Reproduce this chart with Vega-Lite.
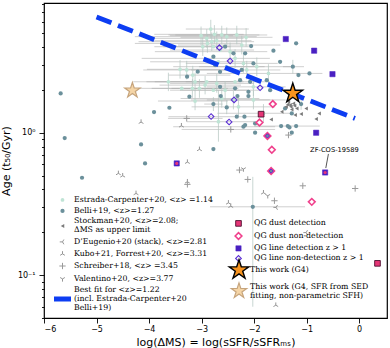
{
 "$schema": "https://vega.github.io/schema/vega-lite/v6.json",
 "width": 343, "height": 315,
 "autosize": {"type": "none"},
 "padding": {"left": 44, "top": 3, "right": 3, "bottom": 30},
 "config": {
  "view": {"stroke": "#000000", "strokeWidth": 1.2},
  "axis": {"grid": false, "domain": false, "tickColor": "#000000", "tickWidth": 0.9, "labelColor": "#000000", "labelFont": "DejaVu Sans", "labelFontSize": 8, "titleFont": "DejaVu Sans", "titleFontSize": 11, "titleFontWeight": "normal", "titleColor": "#000000"},
  "legend": {"labelFont": "DejaVu Serif", "labelFontSize": 7.8, "labelColor": "#000000", "padding": 0, "labelLimit": 400, "symbolOpacity": 1, "orient": "none", "title": null}
 },
 "datasets": {
  "L": [
   {"g":"EC","x":-2.825,"y":5.35},{"g":"EC","x":-3.010,"y":4.80},{"g":"EC","x":-2.756,"y":4.91},{"g":"EC","x":-2.616,"y":4.86},{"g":"EC","x":-2.521,"y":4.73},{"g":"EC","x":-2.330,"y":4.86},{"g":"EC","x":-2.152,"y":4.68},{"g":"EC","x":-2.889,"y":4.24},{"g":"EC","x":-2.806,"y":4.36},{"g":"EC","x":-2.978,"y":4.02},{"g":"EC","x":-2.711,"y":4.43},{"g":"EC","x":-2.235,"y":4.13},{"g":"EC","x":-2.457,"y":3.71},{"g":"EC","x":-2.203,"y":3.07},{"g":"EC","x":-1.949,"y":2.91},{"g":"EC","x":-1.727,"y":2.61},{"g":"EC","x":-3.410,"y":2.79},{"g":"EC","x":-3.283,"y":2.76},{"g":"EC","x":-3.168,"y":2.54},{"g":"EC","x":-3.632,"y":2.28},{"g":"EC","x":-3.124,"y":2.28},{"g":"EC","x":-2.933,"y":2.16},{"g":"EC","x":-3.041,"y":2.05},{"g":"EC","x":-3.175,"y":2.05},{"g":"EC","x":-2.711,"y":2.22},{"g":"EC","x":-2.552,"y":1.99},{"g":"EC","x":-3.124,"y":1.67},{"g":"EC","x":-2.679,"y":1.195},{"g":"EC","x":-2.298,"y":1.52},{"g":"EC","x":-2.616,"y":1.74},{"g":"EC","x":-2.394,"y":1.70},{"g":"EC","x":-2.013,"y":1.70},{"g":"EC","x":-1.822,"y":1.37},{"g":"EC","x":-2.902,"y":4.60},{"g":"EC","x":-2.775,"y":4.02},{"g":"EC","x":-2.648,"y":3.81},{"g":"EC","x":-2.362,"y":3.33},{"g":"EC","x":-2.679,"y":3.15},{"g":"EC","x":-2.521,"y":2.91},{"g":"EC","x":-2.140,"y":2.76},{"g":"EC","x":-2.902,"y":2.28},{"g":"EC","x":-3.378,"y":2.05},{"g":"EC","x":-2.775,"y":1.99},{"g":"EC","x":-2.362,"y":2.28},{"g":"EC","x":-2.013,"y":2.10},
   {"g":"BE","x":-5.683,"y":1.889},{"g":"BE","x":-5.606,"y":0.917},{"g":"BE","x":-5.276,"y":0.483},{"g":"BE","x":-4.152,"y":0.828},{"g":"BE","x":-4.076,"y":0.609},{"g":"BE","x":-3.905,"y":1.397},{"g":"BE","x":-3.613,"y":1.498},{"g":"BE","x":-3.232,"y":1.790},{"g":"BE","x":-2.775,"y":0.768},{"g":"BE","x":-1.200,"y":4.243},{"g":"BE","x":-2.025,"y":0.302},{"g":"BE","x":-3.276,"y":2.474},{"g":"BE","x":-3.073,"y":2.683},{"g":"BE","x":-2.775,"y":1.590},{"g":"BE","x":-2.775,"y":3.42},{"g":"BE","x":-2.057,"y":4.063},{"g":"BE","x":-1.632,"y":3.77},{"g":"BE","x":-2.171,"y":3.61},{"g":"BE","x":-2.394,"y":3.61},{"g":"BE","x":-2.552,"y":4.02},{"g":"BE","x":-1.263,"y":2.91},{"g":"BE","x":-1.156,"y":2.54},{"g":"BE","x":-0.946,"y":2.61},{"g":"BE","x":-2.013,"y":3.07},{"g":"BE","x":-2.235,"y":2.76},{"g":"BE","x":-2.076,"y":2.28},{"g":"BE","x":-2.267,"y":2.34},{"g":"BE","x":-2.108,"y":1.94},{"g":"BE","x":-2.362,"y":2.05},{"g":"BE","x":-1.695,"y":1.99},{"g":"BE","x":-2.648,"y":2.68},{"g":"BE","x":-2.743,"y":2.99},{"g":"BE","x":-2.635,"y":1.81},{"g":"BE","x":-2.521,"y":1.507},{"g":"BE","x":-2.317,"y":1.81},{"g":"BE","x":-2.108,"y":1.81},{"g":"BE","x":-2.330,"y":1.296},{"g":"BE","x":-2.184,"y":1.296},{"g":"BE","x":-2.171,"y":1.132},{"g":"BE","x":-1.981,"y":1.163},{"g":"BE","x":-1.981,"y":1.0},{"g":"BE","x":-2.203,"y":1.102},{"g":"BE","x":-1.486,"y":1.114},{"g":"BE","x":-1.359,"y":1.114},{"g":"BE","x":-1.200,"y":1.114},{"g":"BE","x":-1.283,"y":1.0},{"g":"BE","x":-1.105,"y":1.59},{"g":"BE","x":-1.283,"y":1.367},{"g":"BE","x":-1.505,"y":3.15},{"g":"BE","x":-1.410,"y":1.482},{"g":"BE","x":-1.327,"y":1.09},{"g":"BE","x":-1.759,"y":2.34},{"g":"BE","x":-2.648,"y":2.10},{"g":"BE","x":-1.746,"y":0.95},{"g":"BE","x":-1.676,"y":0.538},
   {"g":"ST","x":-1.676,"y":1.241},{"g":"ST","x":-1.473,"y":1.405},{"g":"ST","x":-1.283,"y":1.458},{"g":"ST","x":-1.219,"y":1.331},{"g":"ST","x":-1.105,"y":1.352},{"g":"ST","x":-1.010,"y":1.482},{"g":"ST","x":-0.762,"y":1.367},{"g":"ST","x":-0.819,"y":1.247},{"g":"ST","x":-1.346,"y":1.651},{"g":"ST","x":-1.314,"y":1.565},{"g":"ST","x":-1.251,"y":1.607},{"g":"ST","x":-1.390,"y":1.52},{"g":"ST","x":-1.187,"y":1.48},{"g":"ST","x":-1.300,"y":1.52},{"g":"ST","x":-1.360,"y":1.58},{"g":"ST","x":-1.230,"y":1.55},
   {"g":"DE","x":-1.581,"y":0.299},{"g":"DE","x":-1.010,"y":0.199},
   {"g":"KU","x":-4.152,"y":1.188},{"g":"KU","x":-3.384,"y":1.120},{"g":"KU","x":-3.041,"y":0.764},{"g":"KU","x":-3.270,"y":0.622},{"g":"KU","x":-4.584,"y":0.518},{"g":"KU","x":-4.502,"y":0.499},{"g":"KU","x":-4.248,"y":0.375},{"g":"KU","x":-3.270,"y":0.453},{"g":"KU","x":-2.489,"y":0.322},{"g":"KU","x":-2.444,"y":0.305},{"g":"KU","x":-1.587,"y":0.0615},{"g":"KU","x":-1.822,"y":0.379},
   {"g":"SC","x":-3.283,"y":1.261},{"g":"SC","x":-2.444,"y":1.055},{"g":"SC","x":-1.346,"y":0.963},{"g":"SC","x":-2.279,"y":0.547},{"g":"SC","x":-2.121,"y":0.470},{"g":"SC","x":-3.270,"y":0.434},{"g":"SC","x":-1.613,"y":0.333},{"g":"SC","x":-1.073,"y":0.424},{"g":"SC","x":-0.076,"y":0.406},
   {"g":"VA","x":-2.203,"y":0.556},{"g":"VA","x":-1.740,"y":0.361}
  ],
  "Q": [
   {"g":"QDN","x":-1.644,"y":1.59},{"g":"QDN","x":-1.898,"y":1.18},{"g":"QDN","x":-1.746,"y":0.95},{"g":"QDN","x":-1.663,"y":0.76},{"g":"QDN","x":-1.676,"y":0.538},{"g":"QDN","x":-0.902,"y":0.327},
   {"g":"QLN","x":-2.660,"y":3.96},{"g":"QLN","x":-2.457,"y":3.19},{"g":"QLN","x":-1.886,"y":2.07},{"g":"QLN","x":-2.381,"y":1.70},{"g":"QLN","x":-2.476,"y":1.19},{"g":"QLN","x":-2.819,"y":1.30},
   {"g":"xPD","x":-1.746,"y":0.95},{"g":"xPD","x":-1.676,"y":0.538},
   {"g":"QLD","x":-1.397,"y":4.55},{"g":"QLD","x":-0.857,"y":3.77},{"g":"QLD","x":-0.508,"y":2.58},{"g":"QLD","x":-0.819,"y":1.0},{"g":"QLD","x":-3.473,"y":0.609},{"g":"QLD","x":-0.648,"y":0.526},
   {"g":"QDD","x":-1.867,"y":1.35},{"g":"QDD","x":0.349,"y":0.121},
   {"g":"xPK","x":-3.473,"y":0.609},{"g":"xPK","x":-0.648,"y":0.526}
  ],
  "S": [{"g":"G4","x":-1.263,"y":1.89},{"g":"G4S","x":-4.317,"y":1.98}],
  "he": [
   {"x":-3.3,"x2":-2.1,"y":5.35},{"x":-3.6,"x2":-2.4,"y":4.80},{"x":-3.9,"x2":-2.2,"y":4.91},{"x":-3.63,"x2":-1.9,"y":4.86},{"x":-4.27,"x2":-1.95,"y":4.73},{"x":-3.5,"x2":-1.75,"y":4.86},{"x":-3.4,"x2":-1.65,"y":4.68},{"x":-4.27,"x2":-2.25,"y":4.24},{"x":-4.2,"x2":-2.0,"y":4.36},{"x":-3.73,"x2":-2.45,"y":4.02},{"x":-3.9,"x2":-2.05,"y":4.43},{"x":-3.45,"x2":-1.5,"y":4.13},{"x":-3.89,"x2":-1.75,"y":3.71},{"x":-3.3,"x2":-1.55,"y":3.07},{"x":-3.05,"x2":-1.3,"y":2.91},{"x":-2.9,"x2":-1.15,"y":2.61},{"x":-4.04,"x2":-2.65,"y":2.79},{"x":-4.11,"x2":-2.5,"y":2.76},{"x":-3.63,"x2":-2.45,"y":2.54},{"x":-4.3,"x2":-2.95,"y":2.28},{"x":-4.05,"x2":-2.35,"y":2.28},{"x":-3.8,"x2":-2.25,"y":2.16},{"x":-3.95,"x2":-2.3,"y":2.05},{"x":-3.57,"x2":-2.5,"y":2.05},{"x":-3.6,"x2":-2.0,"y":2.22},{"x":-3.41,"x2":-1.9,"y":1.99},{"x":-3.83,"x2":-2.5,"y":1.67},{"x":-3.28,"x2":-2.0,"y":1.195},{"x":-3.19,"x2":-1.6,"y":1.52},{"x":-3.4,"x2":-1.9,"y":1.74},{"x":-3.2,"x2":-1.7,"y":1.70},{"x":-2.9,"x2":-1.4,"y":1.70},{"x":-2.7,"x2":-1.3,"y":1.37},{"x":-4.0,"x2":-2.2,"y":4.60},{"x":-3.9,"x2":-2.1,"y":4.02},{"x":-3.6,"x2":-2.0,"y":3.81},{"x":-4.14,"x2":-1.7,"y":3.33},{"x":-3.98,"x2":-2.0,"y":3.15},{"x":-3.54,"x2":-1.8,"y":2.91},{"x":-3.2,"x2":-1.5,"y":2.76},{"x":-3.89,"x2":-2.2,"y":2.28},{"x":-4.2,"x2":-2.7,"y":2.05},{"x":-3.6,"x2":-2.1,"y":1.99},{"x":-3.3,"x2":-1.7,"y":2.28},{"x":-2.9,"x2":-1.4,"y":2.10},
   {"x":-3.63,"x2":-1.8,"y":1.296},{"x":-3.54,"x2":-1.6,"y":1.102},
   {"x":-2.84,"x2":-1.03,"y":0.302},{"x":-1.45,"x2":-1.05,"y":2.91},{"x":-2.95,"x2":-2.6,"y":1.59},{"x":-1.2,"x2":-0.7,"y":2.61},{"x":-2.0,"x2":-0.75,"y":1.114},
   {"x":-3.64,"x2":-2.6,"y":1.261},{"x":-3.38,"x2":-1.6,"y":1.055}
  ],
  "ve": [
   {"x":-2.825,"y":4.60,"y2":6.21},{"x":-3.010,"y":4.13,"y2":5.57},{"x":-2.756,"y":4.22,"y2":5.70},{"x":-2.616,"y":4.18,"y2":5.64},{"x":-2.521,"y":4.07,"y2":5.49},{"x":-2.330,"y":4.18,"y2":5.64},{"x":-2.152,"y":4.02,"y2":5.43},{"x":-2.889,"y":3.65,"y2":4.92},{"x":-2.806,"y":3.75,"y2":5.06},{"x":-2.978,"y":3.46,"y2":4.66},{"x":-2.711,"y":3.81,"y2":5.14},{"x":-2.235,"y":3.55,"y2":4.79},{"x":-2.457,"y":3.19,"y2":4.30},{"x":-2.203,"y":2.64,"y2":3.56},{"x":-1.949,"y":2.50,"y2":3.38},{"x":-1.727,"y":2.24,"y2":3.03},{"x":-3.410,"y":2.40,"y2":3.24},{"x":-3.283,"y":2.37,"y2":3.20},{"x":-3.168,"y":2.18,"y2":2.95},{"x":-3.632,"y":1.96,"y2":2.64},{"x":-3.124,"y":1.96,"y2":2.64},{"x":-2.933,"y":1.86,"y2":2.51},{"x":-3.041,"y":1.76,"y2":2.38},{"x":-3.175,"y":1.76,"y2":2.38},{"x":-2.711,"y":1.91,"y2":2.58},{"x":-2.552,"y":1.71,"y2":2.31},{"x":-3.124,"y":1.44,"y2":1.99},{"x":-2.679,"y":0.865,"y2":1.99},{"x":-2.298,"y":1.31,"y2":1.76},{"x":-2.616,"y":1.50,"y2":2.02},{"x":-2.394,"y":1.46,"y2":1.97},{"x":-2.013,"y":1.46,"y2":1.97},{"x":-1.822,"y":1.18,"y2":1.59},{"x":-2.902,"y":3.96,"y2":5.34},{"x":-2.362,"y":2.86,"y2":3.86},{"x":-2.140,"y":2.37,"y2":3.20},{"x":-2.013,"y":1.81,"y2":2.44},
   {"x":-2.025,"y":0.06,"y2":0.49},{"x":-1.263,"y":2.6,"y2":3.25},{"x":-2.775,"y":1.42,"y2":1.78},{"x":-2.521,"y":1.35,"y2":1.7},{"x":-1.105,"y":1.45,"y2":1.75}
  ],
  "fit": [{"x":-5.0,"y":6.5},{"x":-0.08,"y":1.26}],
  "arrow": [{"x":-0.585,"y":0.71,"x2":-0.635,"y2":0.565}],
  "lab": [{"x":-0.47,"y":0.755,"t":"ZF-COS-19589"}]
 },
 "encoding": {
  "x": {"field":"x","type":"quantitative","scale":{"domain":[-6,0.53],"nice":false,"zero":false},"axis":{"values":[-6,-5,-4,-3,-2,-1,0],"format":"d","title":"log(ΔMS) = log(sSFR/sSFRₘₛ)","tickSize":5,"labelPadding":2,"titlePadding":3}},
  "y": {"field":"y","type":"quantitative","scale":{"type":"log","domain":[0.05,8.15],"nice":false},"axis":{"values":[0.05,0.06,0.07,0.08,0.09,0.1,0.2,0.3,0.4,0.5,0.6,0.7,0.8,0.9,1,2,3,4,5,6,7,8],"labelExpr":"datum.value==1?'10⁰':(datum.value==0.1?'10⁻¹':'')","tickSize":{"condition":{"test":"datum.value==1||datum.value==0.1","value":5},"value":2.5},"labelOverlap":false,"labelPadding":4,"title":"Age (t₅₀/Gyr)","titlePadding":6}}
 },
 "layer": [
  {"data":{"name":"he"},"mark":{"type":"rule","color":"#a8a8a8","strokeWidth":0.9,"opacity":0.6},"encoding":{"x2":{"field":"x2"}}},
  {"data":{"name":"ve"},"mark":{"type":"rule","color":"#b4c6c0","strokeWidth":0.9,"opacity":0.8},"encoding":{"y2":{"field":"y2"}}},
  {"data":{"name":"L"},"mark":{"type":"point","opacity":1},
   "encoding":{
    "shape":{"field":"g","type":"nominal","scale":{"domain":["EC","BE","ST","DE","KU","SC","VA","FIT"],"range":["circle","circle","triangle-left","M0,0L-1,0M0,0L0.5,-0.866M0,0L0.5,0.866","M0,0L0,-1M0,0L-0.866,0.5M0,0L0.866,0.5","M-1,0L1,0M0,-1L0,1","M0,0L0,1M0,0L-0.866,-0.5M0,0L0.866,-0.5","stroke"]},
     "legend":{"orient":"none","legendX":7.5,"legendY":193,"values":["EC","BE","ST","DE","KU","SC","VA","FIT"],"rowPadding":2,"labelOffset":0.5,"labelExpr":"datum.label=='EC'?'Estrada-Carpenter+20, <z> =1.14':datum.label=='BE'?'Belli+19, <z>=1.27':datum.label=='ST'?['Stockman+20, <z>=2.08;','ΔMS as upper limit']:datum.label=='DE'?'D’Eugenio+20 (stack), <z>=2.81':datum.label=='KU'?'Kubo+21, Forrest+20, <z>=3.31':datum.label=='SC'?'Schreiber+18, <z> =3.45':datum.label=='VA'?'Valentino+20, <z>=3.77':['Best fit for <z>=1.22',' (incl. Estrada-Carpenter+20','Belli+19)']",
      "encoding":{"labels":{"dy":{"condition":[{"test":"datum.value=='ST'","value":-4.5},{"test":"datum.value=='FIT'","value":-9}],"value":0},"lineHeight":{"value":9}}}}},
    "fill":{"field":"g","type":"nominal","scale":{"domain":["EC","BE","ST","DE","KU","SC","VA","FIT"],"range":["#bfe4d5","#6b909b","#7a7a7a","transparent","transparent","transparent","transparent","transparent"]},
     "legend":{"orient":"none","legendX":7.5,"legendY":193,"values":["EC","BE","ST","DE","KU","SC","VA","FIT"],"rowPadding":2,"labelOffset":0.5,
      "encoding":{"labels":{"dy":{"condition":[{"test":"datum.value=='ST'","value":-4.5},{"test":"datum.value=='FIT'","value":-9}],"value":0},"lineHeight":{"value":9}}}}},
    "stroke":{"field":"g","type":"nominal","scale":{"domain":["EC","BE","ST","DE","KU","SC","VA","FIT"],"range":["#bfe4d5","#6b909b","#7a7a7a","#8a8a8a","#8a8a8a","#9a9a9a","#8a8a8a","#0d3df2"]},
     "legend":{"orient":"none","legendX":7.5,"legendY":193,"values":["EC","BE","ST","DE","KU","SC","VA","FIT"],"rowPadding":2,"labelOffset":0.5,
      "encoding":{"labels":{"dy":{"condition":[{"test":"datum.value=='ST'","value":-4.5},{"test":"datum.value=='FIT'","value":-9}],"value":0},"lineHeight":{"value":9}}}}},
    "size":{"field":"g","type":"nominal","scale":{"type":"ordinal","domain":["EC","BE","ST","DE","KU","SC","VA","FIT"],"range":[14,18,16,30,30,40,30,289]},
     "legend":{"orient":"none","legendX":7.5,"legendY":193,"values":["EC","BE","ST","DE","KU","SC","VA","FIT"],"rowPadding":2,"labelOffset":0.5,
      "encoding":{"labels":{"dy":{"condition":[{"test":"datum.value=='ST'","value":-4.5},{"test":"datum.value=='FIT'","value":-9}],"value":0},"lineHeight":{"value":9}}}}},
    "strokeWidth":{"field":"g","type":"nominal","scale":{"type":"ordinal","domain":["EC","BE","ST","DE","KU","SC","VA","FIT"],"range":[0,0,0,0.9,0.9,1,0.9,5]},
     "legend":{"orient":"none","legendX":7.5,"legendY":193,"values":["EC","BE","ST","DE","KU","SC","VA","FIT"],"rowPadding":2,"labelOffset":0.5,
      "encoding":{"labels":{"dy":{"condition":[{"test":"datum.value=='ST'","value":-4.5},{"test":"datum.value=='FIT'","value":-9}],"value":0},"lineHeight":{"value":9}}}}}
   }},
  {"data":{"name":"fit"},"mark":{"type":"line","color":"#0d3df2","strokeWidth":4.8,"strokeDash":[16,7],"strokeCap":"butt"},"encoding":{}},
  {"data":{"name":"Q"},"mark":{"type":"point","opacity":1},
   "encoding":{
    "shape":{"field":"g","type":"nominal","scale":{"domain":["QDD","QDN","QLD","QLN","xPD","xPK"],"range":["square","diamond","square","diamond","diamond","circle"]},
     "legend":{"orient":"none","legendX":190,"legendY":216.5,"values":["QDD","QDN","QLD","QLN"],"rowPadding":0,"labelOffset":11,"labelExpr":"datum.label=='QDD'?'QG dust detection':datum.label=='QDN'?'QG dust non-detection':datum.label=='QLD'?'QG line detection z > 1':'QG line non-detection z > 1'"}},
    "fill":{"field":"g","type":"nominal","scale":{"domain":["QDD","QDN","QLD","QLN","xPD","xPK"],"range":["#e63576","transparent","#4a20c2","transparent","transparent","#e8357a"]},
     "legend":{"orient":"none","legendX":190,"legendY":216.5,"values":["QDD","QDN","QLD","QLN"],"rowPadding":0,"labelOffset":11}},
    "stroke":{"field":"g","type":"nominal","scale":{"domain":["QDD","QDN","QLD","QLN","xPD","xPK"],"range":["#4d1030","#f0408c","#4a20c2","#5b2fd3","#5b2fd3","#e8357a"]},
     "legend":{"orient":"none","legendX":190,"legendY":216.5,"values":["QDD","QDN","QLD","QLN"],"rowPadding":0,"labelOffset":11}},
    "size":{"field":"g","type":"nominal","scale":{"type":"ordinal","domain":["QDD","QDN","QLD","QLN","xPD","xPK"],"range":[32,45,28,32,18,10]},
     "legend":{"orient":"none","legendX":190,"legendY":216.5,"values":["QDD","QDN","QLD","QLN"],"rowPadding":0,"labelOffset":11}},
    "strokeWidth":{"field":"g","type":"nominal","scale":{"type":"ordinal","domain":["QDD","QDN","QLD","QLN","xPD","xPK"],"range":[0.9,1.6,0.5,1.1,1,0]},
     "legend":{"orient":"none","legendX":190,"legendY":216.5,"values":["QDD","QDN","QLD","QLN"],"rowPadding":0,"labelOffset":11}}
   }},
  {"data":{"name":"S"},"mark":{"type":"point","opacity":1},
   "encoding":{
    "shape":{"field":"g","type":"nominal","scale":{"domain":["G4","G4S"],"range":["M0,-1L0.2245,-0.309L0.951,-0.309L0.363,0.118L0.588,0.809L0,0.382L-0.588,0.809L-0.363,0.118L-0.951,-0.309L-0.2245,-0.309Z","M0,-1L0.2245,-0.309L0.951,-0.309L0.363,0.118L0.588,0.809L0,0.382L-0.588,0.809L-0.363,0.118L-0.951,-0.309L-0.2245,-0.309Z"]},
     "legend":{"orient":"none","legendX":184,"legendY":256,"rowPadding":-15,"labelOffset":0,"labelExpr":"datum.label=='G4'?'This work (G4)':['This work (G4, SFR from SED','fitting, non-parametric SFH)']",
      "encoding":{"labels":{"dy":{"condition":{"test":"datum.value=='G4S'","value":-4.5},"value":0},"lineHeight":{"value":9}}}}},
    "fill":{"field":"g","type":"nominal","scale":{"domain":["G4","G4S"],"range":["#f7931e","#f5d5a6"]},
     "legend":{"orient":"none","legendX":184,"legendY":256,"rowPadding":-15,"labelOffset":0,
      "encoding":{"labels":{"dy":{"condition":{"test":"datum.value=='G4S'","value":-4.5},"value":0},"lineHeight":{"value":9}}}}},
    "stroke":{"field":"g","type":"nominal","scale":{"domain":["G4","G4S"],"range":["#000000","#c6a47c"]},
     "legend":{"orient":"none","legendX":184,"legendY":256,"rowPadding":-15,"labelOffset":0,
      "encoding":{"labels":{"dy":{"condition":{"test":"datum.value=='G4S'","value":-4.5},"value":0},"lineHeight":{"value":9}}}}},
    "size":{"field":"g","type":"nominal","scale":{"type":"ordinal","domain":["G4","G4S"],"range":[420,260]},
     "legend":{"orient":"none","legendX":184,"legendY":256,"rowPadding":-15,"labelOffset":0,
      "encoding":{"labels":{"dy":{"condition":{"test":"datum.value=='G4S'","value":-4.5},"value":0},"lineHeight":{"value":9}}}}},
    "strokeWidth":{"field":"g","type":"nominal","scale":{"type":"ordinal","domain":["G4","G4S"],"range":[1.4,1.2]},
     "legend":{"orient":"none","legendX":184,"legendY":256,"rowPadding":-15,"labelOffset":0,
      "encoding":{"labels":{"dy":{"condition":{"test":"datum.value=='G4S'","value":-4.5},"value":0},"lineHeight":{"value":9}}}}}
   }},
  {"data":{"name":"arrow"},"mark":{"type":"rule","color":"#555555","strokeWidth":1},"encoding":{"x2":{"field":"x2"},"y2":{"field":"y2"}}},
  {"data":{"name":"lab"},"mark":{"type":"text","font":"DejaVu Sans","fontSize":6.7,"color":"#000000","align":"center","baseline":"middle"},"encoding":{"text":{"field":"t"}}}
 ],
 "resolve": {"scale": {"shape":"independent","fill":"independent","stroke":"independent","size":"independent","strokeWidth":"independent"}}
}
